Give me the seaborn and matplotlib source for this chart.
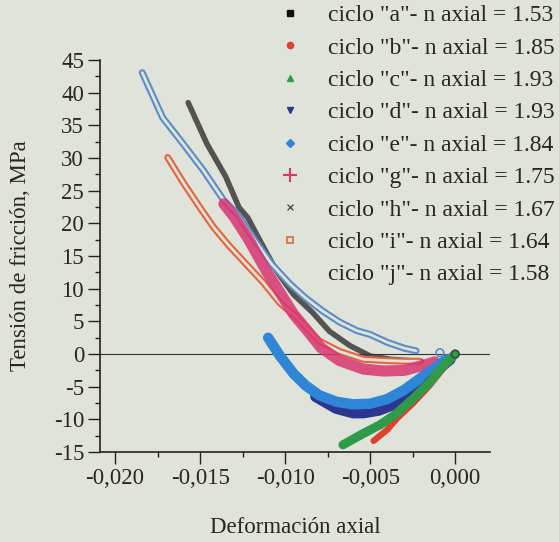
import numpy as np
import pandas as pd
import seaborn as sns
import matplotlib.pyplot as plt
from matplotlib.lines import Line2D
from matplotlib.ticker import MultipleLocator, FuncFormatter

# values: axial strain vs friction stress (MPa)
a_x = [-0.0028, -0.0022, -0.0015, -0.0008, 0.0]
a_y = [-7.7, -6.0, -4.0, -2.1, 0.0]

b_x = [-0.0048, -0.0040, -0.0034, -0.0025, -0.0015, -0.0007, 0.0]
b_y = [-13.3, -11.6, -9.8, -7.6, -4.8, -2.2, 0.0]

c_x = [-0.0066, -0.0055, -0.0044, -0.0035, -0.0025, -0.0015, -0.0007, 0.0]
c_y = [-13.9, -12.3, -10.8, -9.2, -6.9, -4.3, -1.8, 0.0]

d_x = [-0.0082, -0.0070, -0.0060, -0.0054, -0.0045, -0.0035, -0.0028, -0.0020, -0.0009, -0.0003]
d_y = [-6.5, -8.3, -9.0, -9.0, -8.6, -7.6, -6.7, -5.2, -2.1, -0.8]

e_x = [-0.0110, -0.0103, -0.0095, -0.0088, -0.0080, -0.0070, -0.0060, -0.0050, -0.0040, -0.0030, -0.0020, -0.0010, -0.0005]
e_y = [2.5, -0.3, -3.0, -4.8, -6.3, -7.3, -7.7, -7.6, -6.9, -5.5, -3.6, -1.8, -0.8]

g_x = [-0.0136, -0.0130, -0.0122, -0.0111, -0.0102, -0.0095, -0.0087, -0.0079, -0.0068, -0.0054, -0.0042, -0.0030, -0.0017, -0.0012]
g_y = [23.0, 21.0, 17.8, 12.7, 9.0, 6.1, 3.6, 1.0, -1.0, -2.3, -2.6, -2.5, -1.6, -1.2]

h_x = [-0.0157, -0.0146, -0.0135, -0.0127, -0.0122, -0.0113, -0.0105, -0.0095, -0.0084, -0.0074, -0.0062, -0.0050, -0.0038, -0.0028, -0.0020]
h_y = [38.5, 32.2, 27.2, 22.4, 20.9, 16.5, 12.7, 9.1, 6.4, 3.5, 1.3, -0.3, -0.8, -1.0, -1.1]

i_x = [-0.0169, -0.0160, -0.0150, -0.0142, -0.0133, -0.0123, -0.0113, -0.0103, -0.0093, -0.0080, -0.0068, -0.0054, -0.0040, -0.0030, -0.0021]
i_y = [30.1, 26.3, 22.4, 19.4, 16.6, 13.8, 11.0, 7.8, 5.6, 2.0, 0.4, -0.8, -1.0, -1.1, -1.1]

j_x = [-0.0184, -0.0172, -0.0160, -0.0148, -0.0136, -0.0128, -0.0118, -0.0108, -0.0097, -0.0088, -0.0078, -0.0068, -0.0058, -0.0050, -0.0040, -0.0030, -0.0023]
j_y = [43.1, 36.2, 32.2, 28.1, 23.5, 21.4, 17.5, 13.8, 10.7, 8.6, 6.6, 4.9, 3.6, 3.0, 1.8, 0.9, 0.5]

# loose points sitting at the origin end of the curves
end_x = [-0.0009, 0.0]
end_y = [0.2, 0.0]

labels = ['ciclo "a"- n axial = 1.53', 'ciclo "b"- n axial = 1.85', 'ciclo "c"- n axial = 1.93',
          'ciclo "d"- n axial = 1.93', 'ciclo "e"- n axial = 1.84', 'ciclo "g"- n axial = 1.75',
          'ciclo "h"- n axial = 1.67', 'ciclo "i"- n axial = 1.64', 'ciclo "j"- n axial = 1.58']

bg = '#dfe3da'
sns.set_style("ticks")
plt.rcParams['font.family'] = ['Liberation Serif', 'DejaVu Serif']
plt.rcParams['axes.facecolor'] = bg
plt.rcParams['figure.facecolor'] = bg
fs = 16.5

fig, ax = plt.subplots(figsize=(5.59, 5.42), dpi=100)
fig.subplots_adjust(left=0.179, right=0.877, top=0.889, bottom=0.166)

ax.axhline(0, color='#333333', lw=0.8, zorder=1)

def band(x, y, color, lw, alpha=1.0, z=2):
    sns.lineplot(x=x, y=y, ax=ax, color=color, lw=lw, alpha=alpha, sort=False,
                 estimator=None, legend=False, zorder=z, solid_capstyle='round')

# upper branches: chains of open markers
band(h_x, h_y, '#3a3a3a', 4.0, 0.85, 2)
band(j_x, j_y, '#5b8cc8', 5.0, 1.0, 3)
band(j_x, j_y, bg, 2.0, 1.0, 3)
band(i_x, i_y, '#e8633a', 5.0, 1.0, 3)
band(i_x, i_y, bg, 2.0, 1.0, 3)
band(g_x, g_y, '#d93570', 8.0, 0.85, 4)

# lower branches: dense filled markers
band(d_x, d_y, '#2c3590', 8.0, 1.0, 5)
band(e_x, e_y, '#2f86d6', 7.5, 1.0, 6)
band(a_x, a_y, '#111111', 5.0, 1.0, 6)
band(b_x, b_y, '#e0402f', 4.5, 1.0, 7)
band(c_x, c_y, '#2f9a4a', 6.5, 1.0, 8)

sns.scatterplot(x=end_x, y=end_y, ax=ax, marker='o', s=30, facecolor='none',
                edgecolor=['#5b8cc8', '#444444'], linewidth=1.2, zorder=9, legend=False)

ax.set_xlim(-0.02088, 0.00206)
ax.set_ylim(-15, 45)
ax.xaxis.set_major_locator(MultipleLocator(0.005))
ax.xaxis.set_minor_locator(MultipleLocator(0.0025))
ax.yaxis.set_major_locator(MultipleLocator(5))
ax.yaxis.set_minor_locator(MultipleLocator(2.5))
ax.xaxis.set_major_formatter(FuncFormatter(lambda v, p: f'{v:.3f}'.replace('.', ',').replace('-0,000', '0,000')))
ax.yaxis.set_major_formatter(FuncFormatter(lambda v, p: f'{v:.0f}'))
ax.tick_params(which='major', direction='out', length=8.5, width=1.0, labelsize=fs, color='#222222', pad=3)
ax.tick_params(which='minor', direction='out', length=3.6, width=1.0, color='#222222')
for s in ['top', 'right']:
    ax.spines[s].set_visible(False)
for s in ['left', 'bottom']:
    ax.spines[s].set_linewidth(1.2)
    ax.spines[s].set_color('#222222')

ax.set_xlabel('Deformación axial', fontsize=fs, labelpad=20)
ax.set_ylabel('Tensión de fricción, MPa', fontsize=fs, labelpad=16)

handles = [
    Line2D([], [], ls='none', marker='s', ms=4, color='#111111'),
    Line2D([], [], ls='none', marker='o', ms=4.5, color='#e0402f'),
    Line2D([], [], ls='none', marker='^', ms=5, color='#2f9a4a'),
    Line2D([], [], ls='none', marker='v', ms=5, color='#2c3590'),
    Line2D([], [], ls='none', marker='D', ms=4.5, color='#2f86d6'),
    Line2D([], [], ls='none', marker='+', ms=10, mew=1.5, color='#d93570'),
    Line2D([], [], ls='none', marker='x', ms=5, mew=0.9, color='#444444'),
    Line2D([], [], ls='none', marker='s', ms=5, mfc='none', mew=1.2, color='#e8633a'),
    Line2D([], [], ls='none', marker='none', color=bg),
]
fig.legend(handles, labels, loc='upper right', bbox_to_anchor=(1.0, 1.0), frameon=False,
           fontsize=17, labelspacing=0.46, handlelength=1.2, handletextpad=1.0,
           borderpad=0.2, borderaxespad=0.0)

fig.savefig('out.png', dpi=100, facecolor=bg)
